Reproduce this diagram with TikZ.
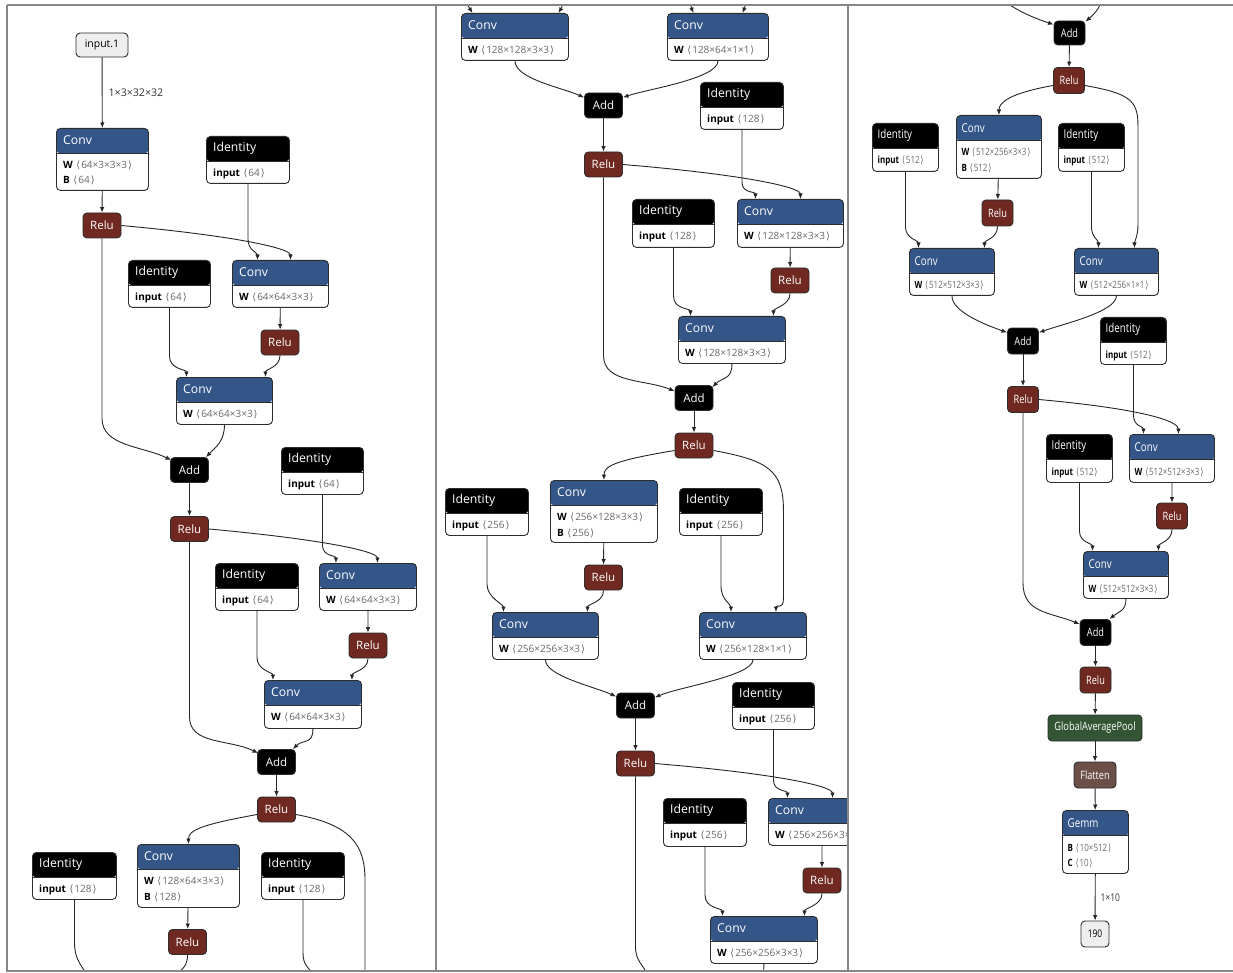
\documentclass[tikz,border=0pt]{standalone}
\usepackage{fontspec}
\usepackage{graphicx}
\setmainfont{Open Sans}
\newfontfamily\dvs{DejaVu Sans}
\usetikzlibrary{arrows.meta}
\definecolor{convc}{RGB}{51,85,136}
\definecolor{reluc}{RGB}{112,41,33}
\definecolor{poolc}{RGB}{51,85,51}
\definecolor{shapec}{RGB}{108,79,71}
\definecolor{inc}{RGB}{238,238,238}
\definecolor{bordc}{RGB}{45,45,45}
\definecolor{dimc}{RGB}{105,105,105}
\definecolor{framec}{RGB}{135,135,135}
\newcommand\txtw[1]{#1}
\newcommand\shpe[1]{\hspace{3.5pt}{\color{dimc}{\dvs ⟨}\hspace{1pt}#1\hspace{1pt}{\dvs ⟩}}}
\newcommand\lW[1]{\textbf{W}\shpe{#1}}
\newcommand\lB[1]{\textbf{B}\shpe{#1}}
\newcommand\lC[1]{\textbf{C}\shpe{#1}}
\newcommand\lI[1]{\textbf{input}\shpe{#1}}
\def\hdh{25pt}\def\txo{7pt}\def\bof{15.5pt}\def\lsp{15.5pt}
\newcommand\tfnt{\fontsize{12.2}{14}\selectfont}
\newcommand\bfnt{\fontsize{10}{12}\selectfont}
\newcommand\opblock[9]{%
  \node[box, fill=white, anchor=north west, minimum width={(#4)-(#2)}, minimum height={(#5)-(#3)},
    path picture={\fill[#6] ([yshift=2pt]path picture bounding box.north west) rectangle ([yshift=-\hdh]path picture bounding box.north east);}] (#1) at (#2,#3) {};
  \draw[bordc, line width=0.5pt] ([yshift=-\hdh]#1.north west) -- ([yshift=-\hdh]#1.north east);
  \node[anchor=west, inner sep=0pt, text=white, font=\tfnt] at ([xshift=\txo, yshift=-0.5*\hdh]#1.north west) {\txtw{#7}};
  \node[anchor=base west, inner sep=0pt, font=\bfnt] at ([xshift=\txo, yshift=-\hdh-\bof]#1.north west) {\txtw{#8}};
  \node[anchor=base west, inner sep=0pt, font=\bfnt] at ([xshift=\txo, yshift=-\hdh-\bof-\lsp]#1.north west) {\txtw{#9}};
}
\begin{document}
\begin{tikzpicture}[x=1pt,y=-1pt,
  box/.style={draw=bordc, line width=0.9pt, rounded corners=4pt, inner sep=0pt},
  op/.style={box, text=white, font=\fontsize{11.5}{13}\selectfont, minimum width=38, minimum height=25},
  ops/.style={box, text=white, font=\fontsize{11.5}{13}\selectfont, minimum width=31, minimum height=26},
  io/.style={box, fill=inc, text=black, font=\fontsize{10.5}{12}\selectfont, minimum width=52, minimum height=24},
  e/.style={draw=black!85, line width=0.9pt, -{Latex[length=5.5pt,width=4.5pt]}},
  ln/.style={draw=black!85, line width=0.9pt},
  elab/.style={text=black!80, font=\fontsize{10.6}{12}\selectfont, inner sep=0pt}]
\useasboundingbox (0,0) rectangle (1233,973);
\fill[white] (0,0) rectangle (1233,973);

% ---------------- panel 1
\begin{scope}
\clip (8,6) rectangle (435,970);
\node[io] (in1) at (102,45) {input.1};
\opblock{c1}{56}{128}{148}{190}{convc}{Conv}{\lW{64×3×3×3}}{\lB{64}}
\opblock{idA}{206}{136}{289}{183}{black}{Identity}{\lI{64}}{}
\node[op, fill=reluc] (r1) at (102,225.5) {Relu};
\opblock{idB}{128}{260}{210}{307}{black}{Identity}{\lI{64}}{}
\opblock{c2}{232}{260}{328}{307}{convc}{Conv}{\lW{64×64×3×3}}{}
\node[op, fill=reluc] (r2) at (280,342.5) {Relu};
\opblock{c3}{176}{377}{272}{424}{convc}{Conv}{\lW{64×64×3×3}}{}
\node[op, fill=black] (add1) at (189.5,470) {Add};
\opblock{idC}{281}{447}{363}{494}{black}{Identity}{\lI{64}}{}
\node[op, fill=reluc] (r3) at (189.5,529) {Relu};
\opblock{idD}{215}{563}{298}{610}{black}{Identity}{\lI{64}}{}
\opblock{c4}{319}{563}{416}{610}{convc}{Conv}{\lW{64×64×3×3}}{}
\node[op, fill=reluc] (r4) at (368,645.5) {Relu};
\opblock{c5}{264}{680}{361}{728}{convc}{Conv}{\lW{64×64×3×3}}{}
\node[op, fill=black] (add2) at (276.5,762) {Add};
\node[op, fill=reluc] (r5) at (276.5,809.5) {Relu};
\opblock{idE}{32}{852}{116}{899}{black}{Identity}{\lI{128}}{}
\opblock{c6}{137}{844}{239}{907}{convc}{Conv}{\lW{128×64×3×3}}{\lB{128}}
\opblock{idF}{261}{852}{344}{899}{black}{Identity}{\lI{128}}{}
\node[op, fill=reluc] (r6) at (187.5,942) {Relu};
\coordinate (p1a) at (88,976);
\coordinate (p1b) at (176,976);
\coordinate (p1c) at (314,976);
\coordinate (p1d) at (365,976);

\draw[e] (in1) -- node[elab, anchor=west, xshift=6pt, midway] {1×3×32×32} (c1);
\draw[e] (c1) -- (r1);
\draw[e] (r1.east) .. controls +(110,10) and +(0,-12) .. ([xshift=10pt]c2.north);
\draw[e] (r1.south) -- ++(0,180) .. controls +(0,28) and +(-28,-14) .. ([xshift=1pt,yshift=-3pt]add1.north west);
\draw[e] (idA.south) -- ++(0,55) .. controls +(0,12) and +(0,-8) .. ([xshift=-23pt]c2.north);
\draw[e] (c2) -- (r2);
\draw[e] (idB.south) -- ++(0,48) .. controls +(0,14) and +(0,-8) .. ([xshift=-38pt]c3.north);
\draw[e] (r2.south) .. controls +(0,12) and +(0,-8) .. ([xshift=41pt]c3.north);
\draw[e] (c3.south) .. controls +(0,16) and +(10,-10) .. ([xshift=-3pt]add1.north east);
\draw[e] (add1) -- (r3);
\draw[e] (r3.east) .. controls +(110,10) and +(0,-12) .. ([xshift=9.5pt]c4.north);
\draw[e] (r3.south) -- ++(0,175) .. controls +(0,28) and +(-28,-14) .. ([xshift=1pt,yshift=-4pt]add2.north west);
\draw[e] (idC.south) -- ++(0,50) .. controls +(0,12) and +(0,-8) .. ([xshift=-32pt]c4.north);
\draw[e] (c4) -- (r4);
\draw[e] (idD.south) -- ++(0,46) .. controls +(0,14) and +(0,-8) .. ([xshift=-40pt]c5.north);
\draw[e] (r4.south) .. controls +(0,12) and +(0,-8) .. ([xshift=39pt]c5.north);
\draw[e] (c5.south) .. controls +(0,16) and +(10,-10) .. ([xshift=-3pt]add2.north east);
\draw[e] (add2) -- (r5);
\draw[e] ([yshift=-5pt]r5.west) .. controls +(-55,10) and +(0,-14) .. (c6.north);
\draw[ln] ([yshift=-5pt]r5.east) .. controls +(55,10) and +(0,-35) .. (365,880) -- (p1d);
\draw[ln] (idE.south) -- ++(0,42) .. controls +(0,16) and +(-8,-12) .. (p1a);
\draw[e] (c6) -- (r6);
\draw[ln] (r6.south) .. controls +(0,12) and +(6,-8) .. (p1b);
\draw[ln] (idF.south) -- ++(0,52) .. controls +(0,14) and +(-6,-10) .. (p1c);
\end{scope}

% ---------------- panel 2
\begin{scope}
\clip (437,6) rectangle (847,970);
\opblock{c7}{461}{13}{568}{60}{convc}{Conv}{\lW{128×128×3×3}}{}
\opblock{c8}{667}{13}{768}{60}{convc}{Conv}{\lW{128×64×1×1}}{}
\node[op, fill=black] (add3) at (603.5,105.5) {Add};
\opblock{idG}{700}{82}{783}{129}{black}{Identity}{\lI{128}}{}
\node[op, fill=reluc] (r7) at (603.5,164.5) {Relu};
\opblock{idH}{632}{199}{714}{247}{black}{Identity}{\lI{128}}{}
\opblock{c9}{737}{199}{843}{247}{convc}{Conv}{\lW{128×128×3×3}}{}
\node[op, fill=reluc] (r8) at (790,280.5) {Relu};
\opblock{c10}{678}{316}{785}{363}{convc}{Conv}{\lW{128×128×3×3}}{}
\node[op, fill=black] (add4) at (694,398) {Add};
\node[op, fill=reluc] (r9) at (694,445.5) {Relu};
\opblock{idI}{445}{488}{528}{535}{black}{Identity}{\lI{256}}{}
\opblock{c11}{550}{480}{657}{542}{convc}{Conv}{\lW{256×128×3×3}}{\lB{256}}
\opblock{idJ}{679}{488}{762}{535}{black}{Identity}{\lI{256}}{}
\node[op, fill=reluc] (r10) at (603.5,577.5) {Relu};
\opblock{c12}{492}{612}{598}{659}{convc}{Conv}{\lW{256×256×3×3}}{}
\opblock{c13}{699}{612}{806}{659}{convc}{Conv}{\lW{256×128×1×1}}{}
\node[op, fill=black] (add5) at (635.5,705.5) {Add};
\opblock{idK}{732}{682}{814}{729}{black}{Identity}{\lI{256}}{}
\node[op, fill=reluc] (r11) at (635.5,763.5) {Relu};
\opblock{idL}{663}{798}{746}{846}{black}{Identity}{\lI{256}}{}
\opblock{c14}{768}{798}{875}{845}{convc}{Conv}{\lW{256×256×3×3}}{}
\node[op, fill=reluc] (r12) at (822,880.5) {Relu};
\opblock{c15}{710}{916}{817}{963}{convc}{Conv}{\lW{256×256×3×3}}{}
\coordinate (t1) at (465,0);
\coordinate (t2) at (565,0);
\coordinate (t3) at (689,0);
\coordinate (t4) at (747,0);
\coordinate (p2b) at (648,976);
\coordinate (p2c) at (763.5,976);

\draw[e] (t1) .. controls +(3,6) and +(-3,-5) .. ([xshift=-42.5pt]c7.north);
\draw[e] (t2) .. controls +(-3,6) and +(3,-5) .. ([xshift=43.5pt]c7.north);
\draw[e] (t3) .. controls +(2,6) and +(-2,-5) .. ([xshift=-24.5pt]c8.north);
\draw[e] (t4) .. controls +(-2,6) and +(2,-5) .. ([xshift=24.5pt]c8.north);
\draw[e] (c7.south) .. controls +(0,18) and +(-22,-10) .. ([yshift=-5pt]add3.north west);
\draw[e] (c8.south) .. controls +(0,18) and +(22,-8) .. ([yshift=-5pt]add3.north east);
\draw[e] (add3) -- (r7);
\draw[e] (r7.east) .. controls +(120,10) and +(0,-12) .. ([xshift=10pt]c9.north);
\draw[e] (r7.south) -- ++(0,178) .. controls +(0,28) and +(-30,-12) .. ([yshift=-6pt]add4.north west);
\draw[e] (idG.south) -- ++(0,52) .. controls +(0,12) and +(0,-8) .. ([xshift=-35pt]c9.north);
\draw[e] (c9) -- (r8);
\draw[e] (idH.south) -- ++(0,48) .. controls +(0,14) and +(0,-8) .. ([xshift=-41.5pt]c10.north);
\draw[e] (r8.south) .. controls +(0,12) and +(0,-8) .. ([xshift=41.5pt]c10.north);
\draw[e] (c10.south) .. controls +(0,16) and +(10,-10) .. ([xshift=-1pt,yshift=-2pt]add4.north east);
\draw[e] (add4) -- (r9);
\draw[e] ([yshift=-5pt]r9.west) .. controls +(-60,10) and +(0,-14) .. (c11.north);
\draw[e] ([yshift=-5pt]r9.east) .. controls +(55,10) and +(0,-40) .. ++(70,60) -- ++(0,88) .. controls +(0,12) and +(0,-8) .. ([xshift=23pt]c13.north);
\draw[e] (c11) -- (r10);
\draw[e] (idI.south) -- ++(0,48) .. controls +(0,14) and +(0,-8) .. ([xshift=-42pt]c12.north);
\draw[e] (r10.south) .. controls +(0,12) and +(0,-8) .. ([xshift=42pt]c12.north);
\draw[e] (idJ.south) -- ++(0,50) .. controls +(0,14) and +(0,-8) .. ([xshift=-22pt]c13.north);
\draw[e] (c12.south) .. controls +(0,16) and +(-22,-10) .. ([yshift=-4pt]add5.north west);
\draw[e] (c13.south) .. controls +(0,16) and +(22,-10) .. ([yshift=-5pt]add5.north east);
\draw[e] (add5) -- (r11);
\draw[e] (r11.east) .. controls +(120,10) and +(0,-12) .. ([xshift=10.5pt]c14.north);
\draw[ln] (r11.south) -- ++(0,170) .. controls +(0,15) and +(-5,-12) .. (p2b);
\draw[e] (idK.south) -- ++(0,50) .. controls +(0,12) and +(0,-8) .. ([xshift=-34.5pt]c14.north);
\draw[e] (c14) -- (r12);
\draw[e] (idL.south) -- ++(0,48) .. controls +(0,14) and +(0,-8) .. ([xshift=-41.5pt]c15.north);
\draw[e] (r12.south) .. controls +(0,12) and +(0,-8) .. ([xshift=40.5pt]c15.north);
\draw[ln] (c15.south) -- (p2c);
\end{scope}

% ---------------- panel 3
\begin{scope}
\clip (849,6) rectangle (1233,970);
\renewcommand\txtw[1]{\scalebox{0.8}[1]{#1}}
\def\hdh{25.5pt}\def\txo{5.5pt}
\node[ops, fill=black, minimum height=24] (add6) at (1069.5,33) {\txtw{Add}};
\node[ops, fill=reluc] (r13) at (1069,80.5) {\txtw{Relu}};
\opblock{idM}{872}{123}{938}{171}{black}{Identity}{\lI{512}}{}
\opblock{c16}{956}{115}{1041}{178}{convc}{Conv}{\lW{512×256×3×3}}{\lB{512}}
\opblock{idN}{1058}{123}{1124}{171}{black}{Identity}{\lI{512}}{}
\node[ops, fill=reluc] (r14) at (997.5,213) {\txtw{Relu}};
\opblock{c17}{909}{248}{994}{295}{convc}{Conv}{\lW{512×512×3×3}}{}
\opblock{c18}{1074}{248}{1158}{295}{convc}{Conv}{\lW{512×256×1×1}}{}
\node[ops, fill=black] (add7) at (1023,341) {\txtw{Add}};
\opblock{idO}{1100}{317}{1166}{364}{black}{Identity}{\lI{512}}{}
\node[ops, fill=reluc] (r15) at (1023,399.5) {\txtw{Relu}};
\opblock{idP}{1046}{434}{1112}{482}{black}{Identity}{\lI{512}}{}
\opblock{c19}{1129}{434}{1214}{482}{convc}{Conv}{\lW{512×512×3×3}}{}
\node[ops, fill=reluc] (r16) at (1172,516) {\txtw{Relu}};
\opblock{c20}{1083}{551}{1168}{598}{convc}{Conv}{\lW{512×512×3×3}}{}
\node[ops, fill=black] (add8) at (1095.5,632.5) {\txtw{Add}};
\node[ops, fill=reluc] (r17) at (1095.5,680) {\txtw{Relu}};
\node[ops, fill=poolc, minimum width=94] (gap) at (1095,728) {\txtw{GlobalAveragePool}};
\node[ops, fill=shapec, minimum width=42] (flat) at (1095,775) {\txtw{Flatten}};
\opblock{gemm}{1062}{810}{1128}{873}{convc}{Gemm}{\lB{10×512}}{\lC{10}}
\node[io, font=\fontsize{10.5}{12}\selectfont, minimum width=28, minimum height=26] (out) at (1095,934) {\txtw{190}};
\coordinate (t5) at (1003,0);
\coordinate (t6) at (1101,0);

\draw[e] (t5) .. controls +(15,12) and +(-15,-5) .. ([yshift=-4pt]add6.north west);
\draw[e] (t6) .. controls +(0,8) and +(6,-5) .. ([yshift=-1pt]add6.north east);
\draw[e] (add6) -- (r13);
\draw[e] ([yshift=-5pt]r13.west) .. controls +(-45,8) and +(0,-12) .. (c16.north);
\draw[e] ([yshift=-5pt]r13.east) .. controls +(45,8) and +(0,-25) .. ++(53,40) -- ++(0,100) .. controls +(0,10) and +(0,-6) .. ([xshift=18pt]c18.north);
\draw[e] (idM.south) -- ++(0,55) .. controls +(0,12) and +(0,-8) .. ([xshift=-33.5pt]c17.north);
\draw[e] (c16) -- (r14);
\draw[e] (r14.south) .. controls +(0,12) and +(0,-8) .. ([xshift=32.5pt]c17.north);
\draw[e] (idN.south) -- ++(0,55) .. controls +(0,10) and +(0,-8) .. ([xshift=-18pt]c18.north);
\draw[e] (c17.south) .. controls +(0,16) and +(-22,-8) .. ([yshift=-5pt]add7.north west);
\draw[e] (c18.south) .. controls +(0,16) and +(22,-8) .. ([yshift=-5pt]add7.north east);
\draw[e] (add7) -- (r15);
\draw[e] (r15.east) .. controls +(110,10) and +(0,-12) .. ([xshift=6.5pt]c19.north);
\draw[e] (r15.south) -- ++(0,170) .. controls +(0,30) and +(-30,-12) .. ([yshift=-5pt]add8.north west);
\draw[e] (idO.south) -- ++(0,50) .. controls +(0,12) and +(0,-8) .. ([xshift=-28.5pt]c19.north);
\draw[e] (c19) -- (r16);
\draw[e] (idP.south) -- ++(0,48) .. controls +(0,12) and +(0,-8) .. ([xshift=-33.5pt]c20.north);
\draw[e] (r16.south) .. controls +(0,12) and +(0,-8) .. ([xshift=32.5pt]c20.north);
\draw[e] (c20.south) .. controls +(0,12) and +(10,-8) .. ([xshift=-2pt]add8.north east);
\draw[e] (add8) -- (r17);
\draw[e] (r17) -- (gap);
\draw[e] (gap) -- (flat);
\draw[e] (flat) -- (gemm);
\draw[e] (gemm) -- node[elab, anchor=west, xshift=5pt, midway] {\txtw{1×10}} (out);
\end{scope}

% ---------------- frames
\draw[framec, line width=1.6pt] (7,5) -- (1233,5);
\draw[framec, line width=1.6pt] (7,5) -- (7,971) -- (1233,971);
\draw[framec, line width=1.6pt] (436,5) -- (436,971);
\draw[framec, line width=1.6pt] (848,5) -- (848,971);
\end{tikzpicture}
\end{document}
